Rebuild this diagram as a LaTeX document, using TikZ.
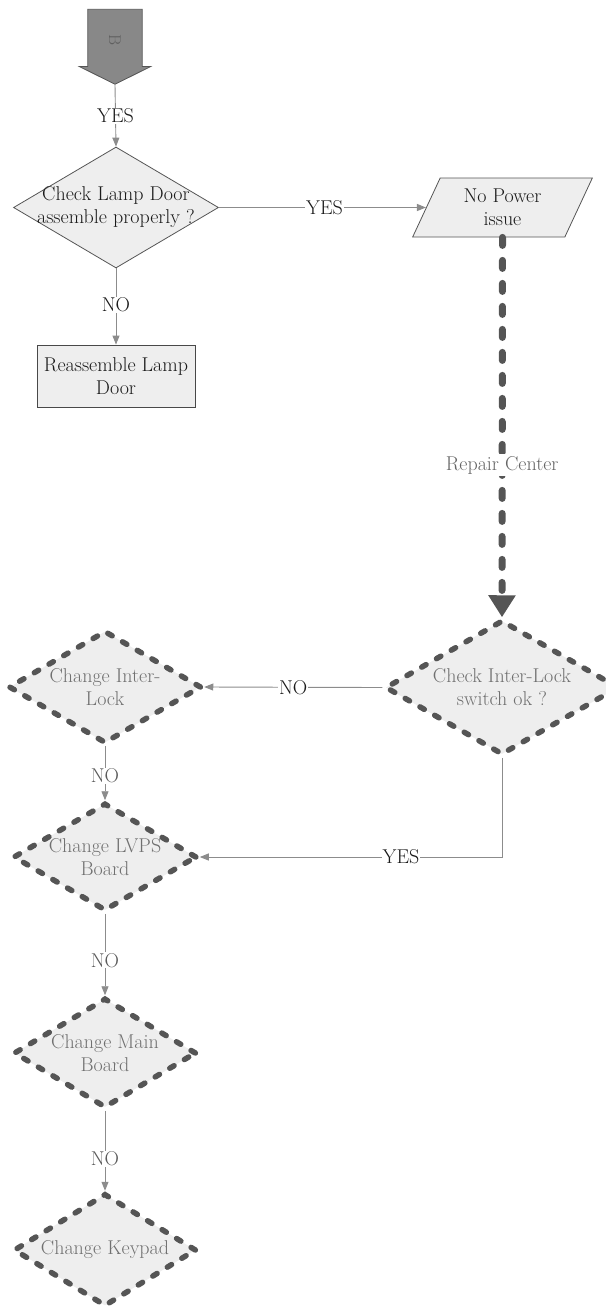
\documentclass[tikz,border=0pt]{standalone}
\usepackage{fontspec}
\usepackage{graphicx}
\usetikzlibrary{shapes.geometric,shapes.arrows,arrows.meta}
\definecolor{fillg}{HTML}{EEEEEE}
\definecolor{bordg}{HTML}{555555}
\definecolor{dashg}{HTML}{555555}
\definecolor{conng}{HTML}{8C8C8C}
\definecolor{txtdark}{HTML}{1A1A1A}
\definecolor{txtgray}{HTML}{707070}
\definecolor{arrfill}{HTML}{888888}
\begin{document}
\begin{tikzpicture}[x=1pt,y=-1pt,
  font=\fontsize{20}{23}\selectfont,
  base/.style={fill=fillg, align=center, inner xsep=-30pt, inner ysep=-12pt},
  solidd/.style={base, diamond, draw=bordg, line width=0.8pt, text=txtdark},
  dashd/.style={base, diamond, draw=dashg, line width=5.5pt, dash pattern=on 5pt off 12pt, line cap=round, text=txtgray},
  conn/.style={draw=conng, line width=0.9pt, -{Triangle[width=7pt,length=9pt]}},
  lbl/.style={fill=white, inner sep=1pt, text=txtdark},
  lblg/.style={fill=white, inner sep=1pt, text=txtgray!80!black},
  bigconn/.style={draw=dashg, line width=7pt, dash pattern=on 8pt off 15pt, line cap=round, -{Triangle[width=26pt,length=22pt]}},
]
\useasboundingbox (0,0) rectangle (605,1306);

% off-page connector B
\node[single arrow, shape border rotate=270, draw=bordg, fill=arrfill, line width=0.8pt,
      minimum height=75pt, single arrow head extend=8.5pt,
      single arrow tip angle=127, inner sep=21pt, text=txtdark!70]
      (B) at (115,40) {\fontsize{17}{17}\selectfont\rotatebox{-90}{B}};

% top part
\node[solidd, minimum width=205pt, minimum height=121pt] (d1) at (116,207.5)
  {Check Lamp Door\\assemble properly ?};
\node[rectangle, draw=txtdark!80, fill=fillg, line width=0.8pt, align=center,
      minimum width=158pt, minimum height=62pt, inner sep=0pt, text=txtdark] (r1) at (116,376)
  {Reassemble Lamp\\Door};
\node[trapezium, trapezium left angle=65, trapezium right angle=115, draw=bordg, fill=fillg,
      line width=0.8pt, align=center, minimum width=160pt, minimum height=59pt,
      inner xsep=0pt, inner ysep=0pt, text=txtdark] (p1) at (502.5,207.5)
  {No Power\\issue};

% dashed diamonds
\node[dashd, minimum width=234pt, minimum height=135pt] (d2) at (502,687.5)
  {Check Inter-Lock\\switch ok ?};
\node[dashd, minimum width=193pt, minimum height=113pt] (d3) at (105,687)
  {Change Inter-\\Lock};
\node[dashd, minimum width=184pt, minimum height=108pt] (d4) at (105,857)
  {Change LVPS\\Board};
\node[dashd, minimum width=183pt, minimum height=110pt] (d5) at (105,1053)
  {Change Main\\Board};
\node[dashd, minimum width=183pt, minimum height=113pt] (d6) at (105,1250)
  {Change Keypad};

% connectors
\draw[conn] (B.tip) -- node[lbl]{YES} (d1.north);
\draw[conn] (d1.south) -- node[lbl, pos=0.48]{NO} (r1.north);
\draw[conn] (d1.east) -- node[lbl, pos=0.51]{YES} (p1.west);
\draw[bigconn] (p1.south) -- node[fill=white, inner sep=2pt, text=txtgray!90!black, pos=0.6]{Repair Center} (d2.north);
\draw[conn] (d2.west) -- node[lbl]{NO} (d3.east);
\draw[conn] (d2.south) |- node[lbl, pos=0.667]{YES} (d4.east);
\draw[conn] (d3.south) -- node[lblg, pos=0.55]{NO} (d4.north);
\draw[conn] (d4.south) -- node[lblg, pos=0.57]{NO} (d5.north);
\draw[conn] (d5.south) -- node[lblg, pos=0.6]{NO} (d6.north);
\end{tikzpicture}
\end{document}
